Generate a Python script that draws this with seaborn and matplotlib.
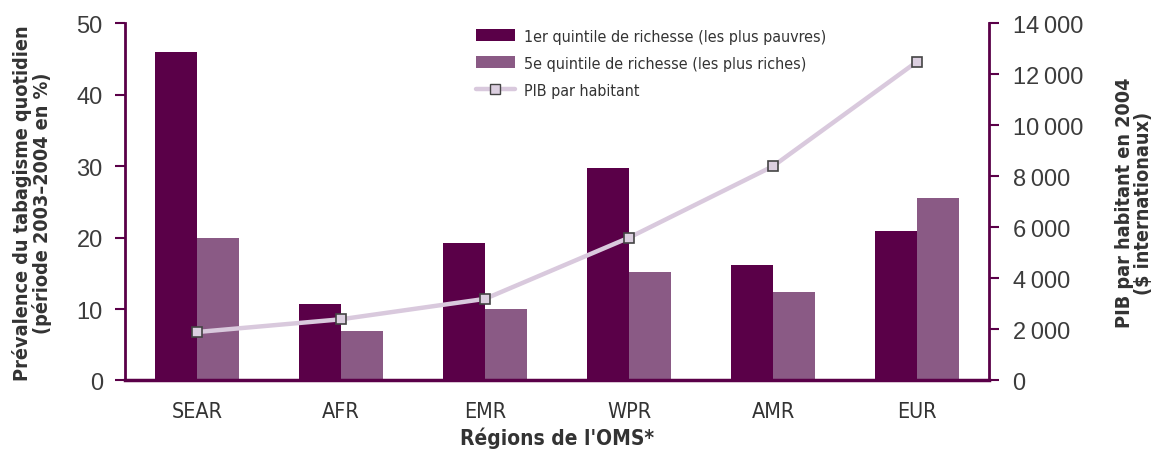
import matplotlib
matplotlib.use("Agg")
import matplotlib.pyplot as plt
import seaborn as sns
import pandas as pd
import numpy as np
from matplotlib.patches import Patch
from matplotlib.lines import Line2D
from matplotlib.ticker import FuncFormatter

regions = ["SEAR", "AFR", "EMR", "WPR", "AMR", "EUR"]
q1_poorest = [46.0, 10.7, 19.2, 29.7, 16.2, 20.9]
q5_richest = [20.0, 6.9, 10.0, 15.2, 12.4, 25.5]
gdp_per_capita = [1900, 2400, 3200, 5600, 8400, 12500]
series_names = ["1er quintile de richesse (les plus pauvres)",
                "5e quintile de richesse (les plus riches)"]
line_name = "PIB par habitant"

dark = "#5a0048"
light = "#8a5a85"
line_col = "#d9c9dd"
spine_col = "#5a0048"
text_col = "#333333"

sns.set_theme(style="white")
plt.rcParams['font.family'] = ["DejaVu Sans"]
plt.rcParams['font.stretch'] = "condensed"
thin = ["Liberation Sans", "DejaVu Sans"]

df = pd.DataFrame({
    "region": regions * 2,
    "val": q1_poorest + q5_richest,
    "serie": [series_names[0]] * 6 + [series_names[1]] * 6,
})

fig = plt.figure(figsize=(11.66, 4.56), dpi=100)
ax = fig.add_axes([0.1072, 0.1634, 0.7410, 0.7831])
sns.barplot(data=df, x="region", y="val", hue="serie", order=regions,
            hue_order=series_names, palette=[dark, light], width=0.583,
            saturation=1, ax=ax, legend=False, edgecolor="none", linewidth=0)
ax.set_ylim(0, 50)
ax.set_xlim(-0.5, 5.5)
ax.set_yticks([0, 10, 20, 30, 40, 50])

ax2 = ax.twinx()
sns.pointplot(x=regions, y=gdp_per_capita, ax=ax2, color=line_col,
              markers="s", linestyles="-", errorbar=None,
              markersize=6.5, markeredgecolor="#444444",
              markerfacecolor="#dccfe0", markeredgewidth=1.2, linewidth=3.2)
ax2.set_ylim(0, 14000)
ax2.set_xlim(-0.5, 5.5)
ax2.set_yticks(np.arange(0, 14001, 2000))
ax2.yaxis.set_major_formatter(FuncFormatter(lambda v, p: f"{int(v):,}".replace(",", "\u2009") if v else "0"))

for a in (ax, ax2):
    for s in a.spines.values():
        s.set_visible(False)
ax.spines["left"].set_visible(True)
ax.spines["bottom"].set_visible(True)
ax2.spines["right"].set_visible(True)
ax.spines["left"].set_color(spine_col)
ax.spines["left"].set_linewidth(2)
ax.spines["bottom"].set_color(spine_col)
ax.spines["bottom"].set_linewidth(2.5)
ax2.spines["right"].set_color(spine_col)
ax2.spines["right"].set_linewidth(2)

ax.tick_params(axis="y", which="major", direction="out", length=7, width=1.5,
               color=spine_col, left=True, labelsize=17, labelcolor="#3c3c3c", pad=9)
ax.tick_params(axis="x", length=0, labelsize=15.5, labelcolor=text_col, pad=15)
ax2.tick_params(axis="y", direction="out", length=7, width=1.5, color=spine_col,
                right=True, labelsize=17, labelcolor="#3c3c3c", pad=10)
for lab in ax.get_yticklabels() + ax2.get_yticklabels():
    lab.set_family(thin)
    lab.set_fontstretch("normal")

ax.set_xlabel("Régions de l'OMS*", fontsize=15, fontweight="bold", color=text_col, labelpad=4)
ax.set_ylabel("Prévalence du tabagisme quotidien\n(période 2003–2004 en %)",
              fontsize=14.2, fontweight="bold", color=text_col, labelpad=18, linespacing=1.0)
ax2.set_ylabel("PIB par habitant en 2004\n($ internationaux)", fontsize=14.2,
               fontweight="bold", color=text_col, labelpad=23, linespacing=1.0,
               rotation=90)

handles = [Patch(facecolor=dark, edgecolor="none"),
           Patch(facecolor=light, edgecolor="none"),
           Line2D([], [], color=line_col, lw=3.2, marker="s", markersize=6.5,
                  markeredgecolor="#444444", markerfacecolor="#dccfe0")]
leg = ax2.legend(handles, series_names + [line_name], loc="upper left",
                 bbox_to_anchor=(0.39, 1.025), frameon=False, fontsize=11.5,
                 handlelength=2.4, handleheight=0.8, labelspacing=0.75,
                 handletextpad=0.6)
for t in leg.get_texts():
    t.set_color(text_col)

fig.savefig("out.png", dpi=100)
